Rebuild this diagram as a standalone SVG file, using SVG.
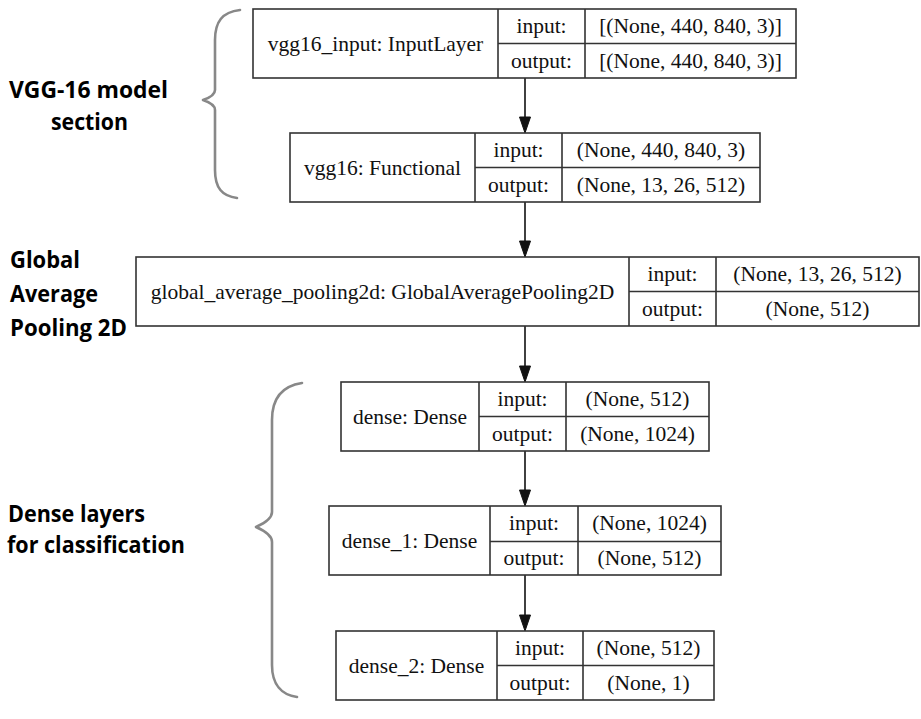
<svg xmlns="http://www.w3.org/2000/svg" width="921" height="719" viewBox="0 0 921 719">
<defs>
<style>
.box{fill:#fff;stroke:#333;stroke-width:1.6}
.ln{stroke:#333;stroke-width:1.6;fill:none}
.t{font-family:"Liberation Serif","Times New Roman",serif;font-size:21.5px;fill:#111;text-anchor:middle}
.lbl{font-family:"Open Sans","Noto Sans",sans-serif;font-weight:700;font-size:24px;fill:#000}
.brace{fill:none;stroke:#888;stroke-width:2.6;stroke-linecap:round;stroke-linejoin:round}
.edge{stroke:#111;stroke-width:1.6;fill:none}
.head{fill:#111;stroke:#111;stroke-width:1}
</style>
</defs>
<rect width="921" height="719" fill="#fff"/>

<g id="braces">
<path class="brace" d="M240,10 C222,12 215,22 215,40 L215,90 Q215,96 203,100 Q215,104 215,110 L215,170 C215,188 222,196 237,198"/>
<path class="brace" d="M302,383 C282,386 272,398 272,420 L272,512 Q272,520 256,527 Q272,534 272,542 L272,665 C272,685 282,695 297,697"/>
</g>

<g id="labels">
<text class="lbl" x="9" y="98" textLength="159" lengthAdjust="spacingAndGlyphs">VGG-16 model</text>
<text class="lbl" x="51" y="130" textLength="77" lengthAdjust="spacingAndGlyphs">section</text>
<text class="lbl" x="10" y="268" textLength="70" lengthAdjust="spacingAndGlyphs">Global</text>
<text class="lbl" x="10" y="302" textLength="88" lengthAdjust="spacingAndGlyphs">Average</text>
<text class="lbl" x="10" y="336" textLength="117" lengthAdjust="spacingAndGlyphs">Pooling 2D</text>
<text class="lbl" x="8" y="522" textLength="137" lengthAdjust="spacingAndGlyphs">Dense layers</text>
<text class="lbl" x="7" y="553" textLength="178" lengthAdjust="spacingAndGlyphs">for classification</text>
</g>

<g id="connectors">
<line class="edge" x1="525" y1="78" x2="525" y2="117"/>
<polygon class="head" points="519.5,117 530.5,117 525,133"/>
<line class="edge" x1="525" y1="202" x2="525" y2="241"/>
<polygon class="head" points="519.5,241 530.5,241 525,257"/>
<line class="edge" x1="525" y1="326" x2="525" y2="366"/>
<polygon class="head" points="519.5,366 530.5,366 525,382"/>
<line class="edge" x1="525" y1="451" x2="525" y2="490"/>
<polygon class="head" points="519.5,490 530.5,490 525,506"/>
<line class="edge" x1="525" y1="575" x2="525" y2="615"/>
<polygon class="head" points="519.5,615 530.5,615 525,631"/>
</g>

<g id="vgg16_input">
<rect class="box" x="253" y="9" width="543" height="69"/>
<path class="ln" d="M498,9 V78 M585,9 V78 M498,43.5 H796"/>
<text class="t" x="375.5" y="50.5">vgg16_input: InputLayer</text>
<text class="t" x="541.5" y="33">input:</text>
<text class="t" x="541.5" y="67.5">output:</text>
<text class="t" x="690.5" y="33">[(None, 440, 840, 3)]</text>
<text class="t" x="690.5" y="67.5">[(None, 440, 840, 3)]</text>
</g>

<g id="vgg16">
<rect class="box" x="290" y="133" width="470" height="69"/>
<path class="ln" d="M475,133 V202 M562,133 V202 M475,167.5 H760"/>
<text class="t" x="382.5" y="174.5">vgg16: Functional</text>
<text class="t" x="518.5" y="157">input:</text>
<text class="t" x="518.5" y="191.5">output:</text>
<text class="t" x="661" y="157">(None, 440, 840, 3)</text>
<text class="t" x="661" y="191.5">(None, 13, 26, 512)</text>
</g>

<g id="global_average_pooling2d">
<rect class="box" x="136" y="257" width="783" height="69"/>
<path class="ln" d="M629,257 V326 M716,257 V326 M629,291.5 H919"/>
<text class="t" x="382.5" y="298.5">global_average_pooling2d: GlobalAveragePooling2D</text>
<text class="t" x="672.5" y="281">input:</text>
<text class="t" x="672.5" y="315.5">output:</text>
<text class="t" x="817.5" y="281">(None, 13, 26, 512)</text>
<text class="t" x="817.5" y="315.5">(None, 512)</text>
</g>

<g id="dense">
<rect class="box" x="341" y="382" width="368" height="69"/>
<path class="ln" d="M479,382 V451 M566,382 V451 M479,416.5 H709"/>
<text class="t" x="410" y="423.5">dense: Dense</text>
<text class="t" x="522.5" y="406">input:</text>
<text class="t" x="522.5" y="440.5">output:</text>
<text class="t" x="637.5" y="406">(None, 512)</text>
<text class="t" x="637.5" y="440.5">(None, 1024)</text>
</g>

<g id="dense_1">
<rect class="box" x="329" y="506" width="392" height="69"/>
<path class="ln" d="M490,506 V575 M578,506 V575 M490,541.5 H721"/>
<text class="t" x="409.5" y="547.5">dense_1: Dense</text>
<text class="t" x="534" y="530">input:</text>
<text class="t" x="534" y="564.5">output:</text>
<text class="t" x="649.5" y="530">(None, 1024)</text>
<text class="t" x="649.5" y="564.5">(None, 512)</text>
</g>

<g id="dense_2">
<rect class="box" x="336" y="631" width="378" height="69"/>
<path class="ln" d="M497,631 V700 M583,631 V700 M497,665.5 H714"/>
<text class="t" x="416.5" y="672.5">dense_2: Dense</text>
<text class="t" x="540" y="655">input:</text>
<text class="t" x="540" y="689.5">output:</text>
<text class="t" x="648.5" y="655">(None, 512)</text>
<text class="t" x="648.5" y="689.5">(None, 1)</text>
</g>
</svg>
